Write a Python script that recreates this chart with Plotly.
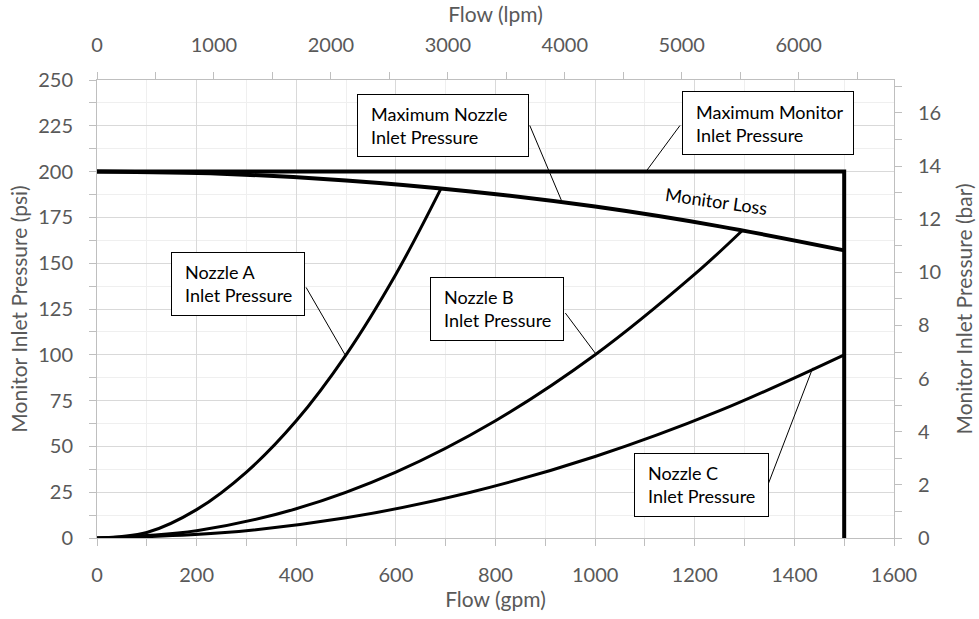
import plotly.graph_objects as go

# ---- data ----
gpm_A = [0, 100, 200, 300, 400, 500, 600, 691]
psi_A = [0, 3, 15.5, 36, 64, 100, 144, 191]
gpm_B = [0, 200, 400, 600, 800, 1000, 1200, 1296]
psi_B = [0, 4, 16, 36, 64, 100, 144, 168]
gpm_C = [0, 250, 500, 750, 1000, 1250, 1500]
psi_C = [0, 2.8, 11, 25, 44.5, 69.5, 100]
gpm_loss = [0, 250, 500, 750, 1000, 1250, 1500]
psi_loss = [200, 198.8, 195.2, 189.2, 180.9, 170.1, 157]
gpm_max = [0, 1500, 1500]
psi_max = [200, 200, 0]

# callout boxes: label, centre (gpm, psi), size px
boxes = [
    ("Maximum Nozzle<br>Inlet Pressure", 695, 224.9, 172, 63),
    ("Maximum Monitor<br>Inlet Pressure", 1347, 226.3, 172, 64),
    ("Nozzle A<br>Inlet Pressure", 283.6, 138.9, 134, 64),
    ("Nozzle B<br>Inlet Pressure", 803, 125.2, 134, 64),
    ("Nozzle C<br>Inlet Pressure", 1213.7, 29.2, 135, 64),
]
# callout leader lines: (point gpm, point psi, box-edge gpm, box-edge psi)
leaders = [
    (932, 184.5, 867.5, 226.0),
    (1102, 200, 1172.6, 226.0),
    (498, 100, 418, 137.6),
    (1000, 101, 938, 123.6),
    (1437, 92.9, 1347, 29.1),
]

FONT = "Lato"
GRAY = "#595959"
AXC = "#bfbfbf"

fig = go.Figure()
for xs, ys, w in [(gpm_A, psi_A, 3), (gpm_B, psi_B, 3), (gpm_C, psi_C, 3),
                  (gpm_loss, psi_loss, 4)]:
    fig.add_trace(go.Scatter(x=xs, y=ys, mode="lines", line=dict(color="black", width=w, shape="spline"),
                             showlegend=False, hoverinfo="skip"))
fig.add_trace(go.Scatter(x=gpm_max, y=psi_max, mode="lines", line=dict(color="black", width=4),
                         showlegend=False, hoverinfo="skip"))
# dummy trace for secondary axes
fig.add_trace(go.Scatter(x=[0], y=[0], xaxis="x2", yaxis="y2", mode="markers",
                         marker=dict(opacity=0), showlegend=False, hoverinfo="skip"))

tickfont = dict(family=FONT, size=20, color=GRAY)
titlefont = dict(family=FONT, size=21, color=GRAY)

fig.update_layout(
    width=979, height=619,
    margin=dict(l=97, r=85, t=80, b=81),
    paper_bgcolor="white", plot_bgcolor="white",
    xaxis=dict(range=[0, 1600], dtick=200, ticks="outside", ticklen=7, tickcolor=AXC, automargin=False,
               showline=True, linecolor=AXC, linewidth=1, showgrid=True, gridcolor="#d9d9d9",
               zeroline=False, tickfont=tickfont, ticklabelstandoff=12,
               minor=dict(dtick=100, ticks="outside", ticklen=7, tickcolor=AXC, showgrid=True, gridcolor="#efefef"),
               title=dict(text="Flow (gpm)", font=titlefont, standoff=6)),
    xaxis2=dict(range=[0, 6815], dtick=1000, overlaying="x", side="top", ticks="outside", ticklen=7,
                tickcolor=AXC, showline=True, linecolor=AXC, showgrid=False, zeroline=False, automargin=False,
                tickfont=tickfont, ticklabelstandoff=12,
                minor=dict(dtick=500, ticks="outside", ticklen=7, tickcolor=AXC, showgrid=False),
                title=dict(text="Flow (lpm)", font=titlefont, standoff=3)),
    yaxis=dict(range=[0, 250], dtick=25, ticks="outside", ticklen=7, tickcolor=AXC, automargin=False,
               showline=True, linecolor=AXC, showgrid=True, gridcolor="#d9d9d9", zeroline=False,
               tickfont=tickfont, ticklabelstandoff=12,
               minor=dict(dtick=12.5, ticks="outside", ticklen=7, tickcolor=AXC, showgrid=True, gridcolor="#efefef"),
               title=dict(text="Monitor Inlet Pressure (psi)", font=titlefont, standoff=4)),
    yaxis2=dict(range=[0, 250 / 14.5038], dtick=2, overlaying="y", side="right", ticks="outside", ticklen=7,
                tickcolor=AXC, showline=True, linecolor=AXC, showgrid=False, zeroline=False, automargin=False,
                tickfont=tickfont, ticklabelstandoff=12,
                minor=dict(dtick=1, ticks="outside", ticklen=7, tickcolor=AXC, showgrid=False),
                title=dict(text="Monitor Inlet Pressure (bar)", font=titlefont, standoff=16)),
)

ann = []
for px, py, ex, ey in leaders:
    ann.append(dict(x=px, y=py, xref="x", yref="y", ax=ex, ay=ey, axref="x", ayref="y",
                    text="", showarrow=True, arrowhead=0, arrowwidth=1, arrowcolor="black"))
for label, cx, cy, w, h in boxes:
    ann.append(dict(x=cx, y=cy, xref="x", yref="y", text=" ", showarrow=False,
                    width=w - 2, height=h - 2, borderpad=0, borderwidth=1, bordercolor="black",
                    bgcolor="white"))
    ann.append(dict(x=cx, y=cy, xref="x", yref="y", text=label, showarrow=False, align="left",
                    xanchor="left", xshift=-w / 2 + 12, font=dict(family=FONT, size=18, color="black")))
ann.append(dict(x=1243, y=184, xref="x", yref="y", text="Monitor Loss", showarrow=False, textangle=8,
                font=dict(family=FONT, size=18, color="black")))
fig.update_layout(annotations=ann)

fig.write_html("out.html")
